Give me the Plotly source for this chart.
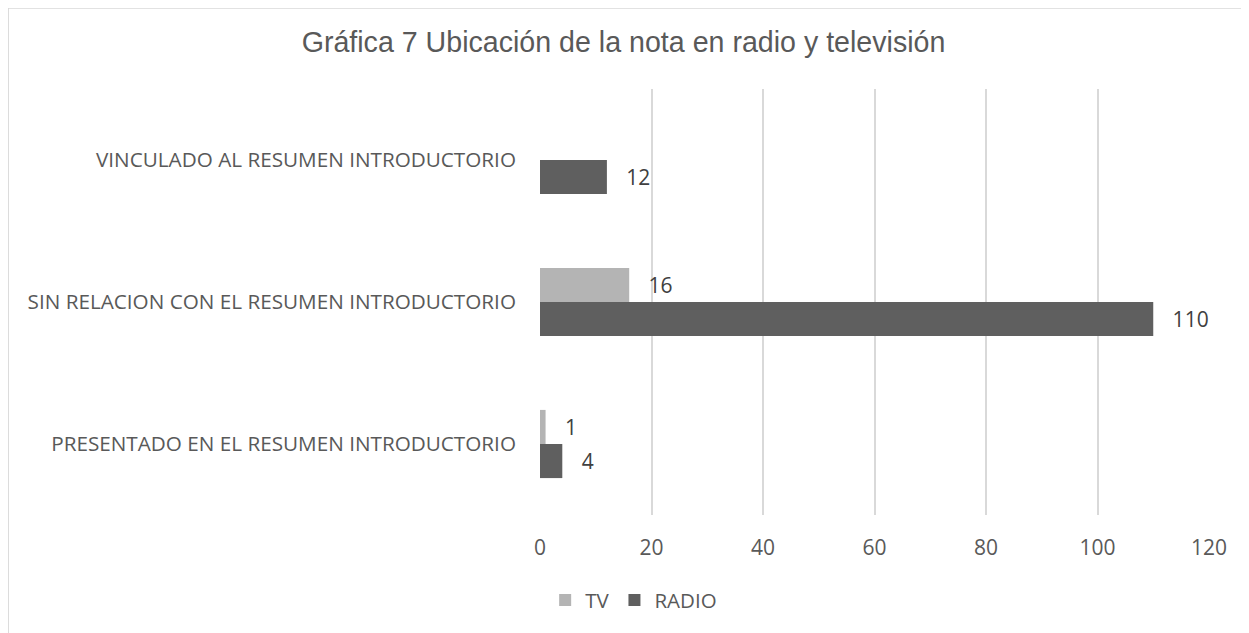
import plotly.graph_objects as go

categories = [
    "PRESENTADO EN EL RESUMEN INTRODUCTORIO",
    "SIN RELACION CON EL RESUMEN INTRODUCTORIO",
    "VINCULADO AL RESUMEN INTRODUCTORIO",
]
tv_values = [1, 16, None]
radio_values = [4, 110, 12]
x_ticks = [0, 20, 40, 60, 80, 100, 120]

TXT = "#595959"
LBL = "#404040"
FONT = "Open Sans"

fig = go.Figure()
fig.add_trace(go.Bar(
    y=categories, x=radio_values, name="RADIO", orientation="h",
    marker=dict(color="#5f5f5f", line=dict(width=0)),
    text=radio_values, texttemplate="   %{x}", textposition="outside",
    textfont=dict(family=FONT, size=21, color=LBL), cliponaxis=False,
))
fig.add_trace(go.Bar(
    y=categories, x=tv_values, name="TV", orientation="h",
    marker=dict(color="#b4b4b4", line=dict(width=0)),
    text=tv_values, texttemplate="   %{x}", textposition="outside",
    textfont=dict(family=FONT, size=21, color=LBL), cliponaxis=False,
))

fig.update_layout(
    width=1241, height=625,
    margin=dict(l=532, r=40, t=81, b=118),
    paper_bgcolor="white", plot_bgcolor="white",
    barmode="group", bargap=0.52, bargroupgap=0,
    title=dict(
        text="Gráfica 7 Ubicación de la nota en radio y televisión",
        x=0.496, xref="container", xanchor="center",
        y=1 - 34 / 625, yref="container", yanchor="middle",
        font=dict(family="Liberation Sans", size=28.6, color=TXT),
    ),
    xaxis=dict(
        range=[0, 120], tickvals=x_ticks, showgrid=True, gridcolor="#d9d9d9",
        gridwidth=1.5, zeroline=False, showline=False,
        tickfont=dict(family=FONT, size=21, color=TXT), ticks="",
        ticklabelstandoff=18, fixedrange=True,
    ),
    yaxis=dict(
        showgrid=False, zeroline=False, showline=False, ticks="",
        tickfont=dict(family=FONT, size=20.7, color=TXT),
        ticklabelstandoff=23,
    ),
    legend=dict(
        orientation="h", traceorder="reversed",
        x=0.14, xanchor="center", y=-0.2, yanchor="middle",
        font=dict(family=FONT, size=20.5, color=TXT),
        itemwidth=30, itemclick=False,
    ),
    showlegend=True,
    shapes=[dict(
        type="rect", xref="paper", yref="paper",
        x0=-0.795, x1=1.3, y0=-0.5, y1=1.19,
        line=dict(color="#d9d9d9", width=1.5), fillcolor="rgba(0,0,0,0)",
        layer="below",
    )],
)

fig.write_html("out.html")
